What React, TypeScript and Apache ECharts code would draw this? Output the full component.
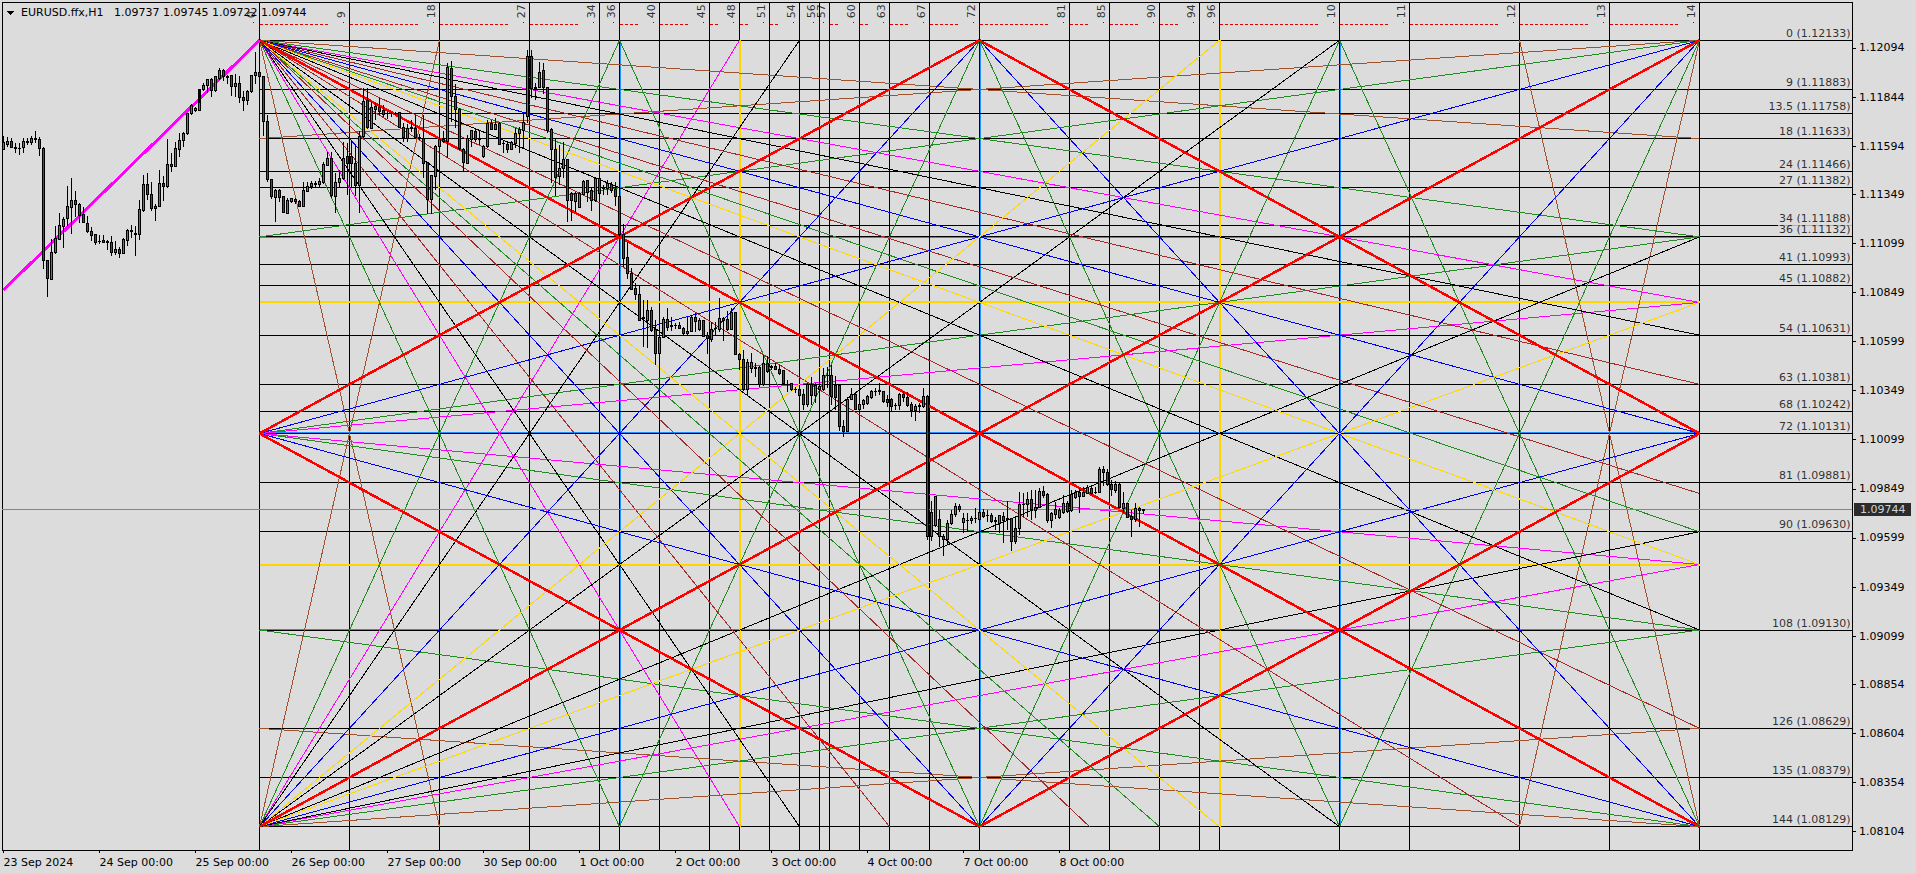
import React, { useEffect, useRef } from "react";
import * as echarts from "echarts";

const FONT = "'DejaVu Sans'";
const BG = "#dcdcdc";

// Hourly bars, [open, high, low, close] in 1e-5 price units
const sep23 = [
[111578,111646,111574,111612],[111600,111642,111591,111618],[111618,111634,111584,111586],[111588,111608,111557,111581],
[111581,111608,111551,111583],[111586,111634,111561,111618],[111615,111634,111600,111618],[111612,111646,111598,111634],
[111629,111671,111608,111631],[111629,111639,111544,111583],[111583,111590,110968,111014],[111013,111016,110828,110919],
[110914,111121,110910,111053],[111050,111187,111045,111125],[111121,111252,111119,111191],[111187,111231,111075,111223],
[111225,111391,111187,111287],[111281,111430,111147,111318],[111318,111366,111235,111296],[111298,111305,111204,111243],
[111247,111282,111201,111204],[111201,111238,111153,111159],[111160,111181,111113,111138],[111142,111145,111092,111103]];
const sep24 = [
[111108,111140,111096,111106],[111114,111140,111103,111103],[111107,111116,111065,111105],[111104,111136,111035,111053],
[111052,111109,111038,111069],[111069,111079,111026,111048],[111048,111125,111046,111119],[111116,111174,111086,111165],
[111159,111191,111126,111167],[111150,111187,111035,111143],[111143,111320,111116,111272],[111265,111447,111259,111399],
[111399,111459,111320,111347],[111349,111411,111265,111276],[111276,111299,111215,111287],[111286,111472,111284,111405],
[111405,111442,111315,111388],[111388,111630,111381,111501],[111501,111557,111462,111489],[111489,111613,111487,111583],
[111576,111659,111540,111623],[111622,111666,111591,111659],[111656,111765,111651,111761],[111758,111809,111755,111802]];
const sep25 = [
[111778,111795,111768,111785],[111778,111815,111775,111883],[111880,111914,111877,111905],[111904,111938,111863,111931],
[111931,111941,111846,111876],[111876,111951,111871,111948],[111941,111990,111931,111978],[111978,111985,111924,111951],
[111948,111956,111910,111946],[111954,111958,111849,111897],[111897,111961,111846,111914],[111914,111951,111815,111842],
[111842,111876,111773,111826],[111826,111880,111802,111870],[111870,111958,111863,111954],[111954,112075,111910,111970],
[111968,112016,111888,111948],[111948,111952,111647,111719],[111719,111753,111413,111423],[111423,111426,111325,111337],
[111335,111376,111210,111366],[111366,111376,111311,111335],[111337,111340,111252,111255],[111252,111328,111247,111318]];
const sep26 = [
[111313,111332,111303,111325],[111323,111332,111298,111310],[111313,111318,111284,111289],[111289,111413,111286,111366],
[111362,111413,111359,111389],[111386,111417,111376,111406],[111406,111417,111388,111401],[111400,111434,111386,111412],
[111408,111512,111403,111501],[111498,111566,111495,111532],[111532,111563,111332,111342],[111337,111456,111252,111410],
[111410,111473,111383,111430],[111430,111617,111422,111532],[111539,111608,111345,111508],[111539,111625,111388,111507],
[111507,111600,111342,111393],[111393,111671,111252,111642],[111642,111888,111637,111821],[111824,111888,111681,111688],
[111685,111821,111681,111792],[111783,111815,111725,111797],[111793,111837,111753,111770],[111776,111804,111744,111756]];
const sep27 = [
[111761,111773,111732,111759],[111759,111770,111744,111761],[111762,111770,111753,111760],[111766,111770,111685,111688],
[111688,111714,111613,111637],[111634,111705,111617,111686],[111685,111727,111664,111687],[111686,111753,111630,111639],
[111639,111654,111625,111637],[111632,111753,111430,111507],[111510,111515,111249,111323],[111320,111447,111249,111442],
[111439,111600,111371,111590],[111590,111685,111498,111627],[111630,111671,111608,111620],[111617,112016,111535,111997],
[111990,112028,111719,111846],[111848,111912,111685,111781],[111780,111790,111574,111580],[111578,111583,111461,111510],
[111507,111651,111503,111634],[111630,111676,111590,111672],[111671,111685,111617,111630],[111630,111671,111600,111628]];
const sep30 = [
[111541,111600,111535,111593],[111590,111727,111587,111709],[111709,111727,111676,111681],[111681,111736,111676,111705],
[111710,111719,111600,111603],[111610,111627,111557,111608],[111600,111613,111557,111576],[111576,111620,111573,111612],
[111608,111688,111583,111659],[111659,111692,111557,111678],[111675,111770,111583,111715],[111744,112084,111710,112050],
[112051,112084,111837,111885],[111892,111914,111829,111890],[111893,112021,111888,111970],[111977,112016,111858,111892],
[111895,111897,111659,111676],[111680,111685,111405,111578],[111578,111637,111342,111435],[111439,111600,111396,111478],
[111478,111617,111430,111527],[111524,111527,111210,111318],[111354,111362,111213,111315],[111311,111362,111260,111354]];
const oct1 = [
[111284,111362,111277,111354],[111349,111420,111345,111412],[111417,111422,111308,111357],[111366,111379,111266,111315],
[111315,111439,111311,111430],[111430,111434,111345,111354],[111379,111396,111345,111377],[111376,111422,111345,111403],
[111401,111413,111354,111367],[111371,111410,111291,111337],[111340,111345,111130,111142],[111145,111196,110981,111023],
[111028,111108,110916,110943],[110947,110972,110862,110865],[110870,110899,110811,110840],[110840,110882,110705,110706],
[110718,110811,110573,110720],[110706,110811,110565,110758],[110758,110774,110650,110655],[110658,110709,110480,110539],
[110539,110658,110455,110619],[110621,110723,110616,110712],[110712,110768,110655,110672],[110679,110723,110655,110677]];
const oct2 = [
[110682,110696,110662,110680],[110682,110701,110662,110667],[110667,110672,110633,110638],[110638,110723,110633,110650],
[110650,110735,110646,110721],[110721,110743,110650,110699],[110658,110718,110655,110706],[110704,110709,110621,110624],
[110628,110650,110536,110614],[110611,110701,110599,110662],[110667,110701,110628,110665],[110662,110823,110650,110718],
[110718,110723,110604,110706],[110709,110757,110655,110662],[110662,110768,110658,110748],[110748,110752,110529,110531],
[110531,110539,110455,110509],[110509,110556,110349,110353],[110353,110509,110322,110492],[110463,110543,110438,110494],
[110466,110488,110421,110464],[110466,110475,110370,110378],[110378,110531,110375,110485],[110485,110526,110441,110446]];
const oct3 = [
[110468,110480,110455,110470],[110471,110488,110455,110458],[110458,110480,110429,110434],[110451,110455,110378,110383],
[110382,110404,110344,110380],[110387,110390,110349,110356],[110356,110370,110336,110354],[110356,110361,110314,110324],
[110327,110356,110251,110280],[110276,110390,110268,110378],[110382,110421,110276,110324],[110324,110390,110285,110373],
[110370,110463,110344,110353],[110353,110463,110349,110426],[110426,110471,110361,110428],[110424,110480,110276,110319],
[110373,110424,110251,110315],[110373,110378,110146,110169],[110169,110200,110115,110141],[110141,110319,110138,110302],
[110302,110361,110300,110331],[110329,110336,110251,110254],[110254,110319,110251,110280],[110281,110305,110254,110297]];
const oct4 = [
[110285,110327,110276,110317],[110315,110353,110305,110344],[110344,110365,110324,110346],[110346,110387,110327,110348],
[110344,110349,110285,110293],[110302,110327,110264,110290],[110302,110310,110247,110268],[110273,110288,110251,110271],
[110271,110339,110251,110331],[110327,110348,110293,110315],[110315,110344,110268,110273],[110276,110293,110217,110247],
[110247,110281,110197,110268],[110271,110285,110234,110268],[110268,110361,110259,110319],[110319,110325,109586,109606],
[109606,109789,109581,109730],[109660,109815,109655,109810],[109691,109742,109552,109606],[109606,109620,109508,109592],
[109592,109691,109564,109674],[109670,109742,109665,109720],[109716,109776,109704,109760],[109760,109772,109733,109742]];
const oct7 = [
[109677,109725,109623,109699],[109687,109725,109635,109689],[109686,109711,109669,109699],[109698,109750,109674,109700],
[109694,109767,109640,109730],[109730,109747,109703,109708],[109713,109742,109682,109711],[109711,109725,109674,109682],
[109687,109708,109637,109685],[109674,109716,109623,109711],[109708,109733,109572,109687],[109696,109788,109640,109694],
[109699,109703,109535,109581],[109648,109708,109569,109581],[109645,109835,109614,109767],[109769,109830,109708,109767],
[109767,109835,109704,109793],[109796,109844,109691,109742],[109737,109844,109699,109755],[109755,109852,109750,109838],
[109838,109861,109801,109813],[109821,109827,109674,109687],[109687,109733,109652,109721],[109716,109784,109694,109742]];
const oct8 = [
[109704,109750,109694,109737],[109728,109818,109721,109776],[109776,109789,109728,109733],[109737,109844,109733,109818],
[109805,109844,109798,109832],[109832,109852,109725,109810],[109810,109857,109806,109830],[109827,109869,109821,109855],
[109852,109861,109818,109827],[109832,109857,109823,109830],[109832,109962,109827,109950],[109949,109966,109861,109932],
[109933,109949,109861,109872],[109872,109894,109813,109847],[109840,109891,109827,109872],[109872,109886,109750,109754],
[109747,109835,109728,109776],[109776,109779,109699,109704],[109708,109742,109603,109694],[109694,109776,109682,109750],
[109747,109755,109653,109740],[109737,109745,109722,109744]];
const allBars = [...sep23, ...sep24, ...sep25, ...sep26, ...sep27, ...sep30, ...oct1, ...oct2, ...oct3, ...oct4, ...oct7, ...oct8];

const dateTicks = [0, 24, 48, 72, 96, 120, 144, 168, 192, 216, 240, 264];
const dateLabels = ["23 Sep 2024", "24 Sep 00:00", "25 Sep 00:00", "26 Sep 00:00", "27 Sep 00:00", "30 Sep 00:00", "1 Oct 00:00", "2 Oct 00:00", "3 Oct 00:00", "4 Oct 00:00", "7 Oct 00:00", "8 Oct 00:00"];
const priceTicks = [1.12094, 1.11844, 1.11594, 1.11349, 1.11099, 1.10849, 1.10599, 1.10349, 1.10099, 1.09849, 1.09599, 1.09349, 1.09099, 1.08854, 1.08604, 1.08354, 1.08104];

// Gann grid
const levelNames = [0, 9, 13.5, 18, 24, 27, 34, 36, 41, 45, 54, 63, 68, 72, 81, 90, 108, 126, 135, 144];
const levelPrices = ["1.12133", "1.11883", "1.11758", "1.11633", "1.11466", "1.11382", "1.11188", "1.11132", "1.10993", "1.10882", "1.10631", "1.10381", "1.10242", "1.10131", "1.09881", "1.09630", "1.09130", "1.08629", "1.08379", "1.08129"];
const timeLevels = [0, 9, 18, 27, 34, 36, 40, 45, 48, 51, 54, 56, 57, 60, 63, 67, 72, 81, 85, 90, 94, 96, 108, 115, 126, 135, 144];
const timeNames = ["0", "9", "18", "27", "34", "36", "40", "45", "48", "51", "54", "56", "57", "60", "63", "67", "72", "81", "85", "90", "94", "96", "10", "11", "12", "13", "14"];
const blueLevels = [36, 72, 108];
const goldLevels = [48, 96];

const brownRays = [[0,0,144,18],[0,0,18,144],[144,0,0,18],[144,0,126,144],[0,144,144,126],[0,144,18,0],[144,144,0,126],[144,144,126,0]];
const greenRays = [[0,0,144,36],[0,0,36,144],[0,0,144,90],[0,0,90,144],[144,0,0,36],[144,0,108,144],[0,144,144,108],[0,144,36,0],[144,144,0,108],[144,144,108,0],[0,72,144,36],[0,72,144,108],[72,0,36,144],[72,0,108,144],[72,144,36,0],[72,144,108,0]];
const magentaRays = [[0,0,144,48],[0,0,48,144],[0,144,144,96],[0,144,48,0],[0,72,144,48],[0,72,144,96]];
const blackRays = [[0,0,144,54],[0,0,54,144],[0,0,144,108],[0,0,108,144],[0,144,144,90],[0,144,54,0],[0,144,144,36],[0,144,108,0]];
const darkRedRays = [[0,0,144,63],[0,0,63,144],[0,0,144,83],[0,0,83,144],[0,0,144,126],[0,0,126,144]];
const blueRays = [[0,0,144,72],[0,0,72,144],[144,0,0,72],[144,0,72,144],[0,144,144,72],[0,144,72,0],[144,144,0,72],[144,144,72,0]];
const goldRays = [[0,0,144,96],[0,0,96,144],[0,144,144,48],[0,144,96,0]];
const redRays = [[0,0,144,144],[144,0,0,144],[0,72,72,0],[72,0,144,72],[0,72,72,144],[72,144,144,72]];

const trendLine = [[0, 1.10862], [64, 1.12133]];
const lastPrice = 1.09744;

const X_MIN = -0.375, X_MAX = 462.125, Y_MIN = 1.0801, Y_MAX = 1.12328;
const gx = (t: number) => 64 + 2.5 * t;
const gy = (l: number) => 1.12133 - (l * 0.04004) / 144;

const segs = (list: number[][]) => {
  const out: any[] = [];
  list.forEach(([a, b, c, d]) => {
    out.push([a, b], [c, d], [null, null]);
  });
  return out;
};
const rays = (list: number[][]) => list.map(([a, b, c, d]) => [gx(a), gy(b), gx(c), gy(d)]);

const lineSeries = (data: any[], color: string, width: number, z = 3, type: any = "solid") => ({
  type: "line",
  data,
  silent: true,
  symbol: "none",
  showSymbol: false,
  connectNulls: false,
  lineStyle: { color, width, type, cap: "butt" },
  itemStyle: { color },
  z,
  animation: false,
});

export default function App() {
  const ref = useRef<HTMLDivElement>(null);
  useEffect(() => {
    const chart = echarts.init(ref.current!, undefined, { renderer: "svg" });
    const priceOf = (l: number) => parseFloat(levelPrices[levelNames.indexOf(l)]);

    const horiz = levelNames.map((l) => [gx(0), priceOf(l), X_MAX, priceOf(l)]);
    const vert = timeLevels.map((t) => [gx(t), Y_MIN, gx(t), Y_MAX]);
    const blueH = blueLevels.map((l) => [gx(0), gy(l), gx(144), gy(l)]);
    const blueV = blueLevels.map((t) => [gx(t), gy(0), gx(t), gy(144)]);
    const goldH = goldLevels.map((l) => [gx(0), gy(l), gx(144), gy(l)]);
    const goldV = goldLevels.map((t) => [gx(t), gy(0), gx(t), gy(144)]);
    const dashes: number[][] = [];
    timeLevels.forEach((t, i) => {
      const next = timeLevels[i + 1];
      if (next !== undefined && next - 2 > t) dashes.push([gx(t), 1.12211, gx(next - 2), 1.12211]);
    });

    const candleData = allBars.map((b, i) => [i, b[0] / 1e5, b[3] / 1e5, b[2] / 1e5, b[1] / 1e5]);

    const levelLabels = levelNames.map((l, i) => ({
      value: [X_MAX - 0.1, priceOf(l)],
      name: `${l} (${levelPrices[i]})`,
    }));
    const timeLabels = timeLevels.map((t, i) => ({
      value: [gx(t) - 2.1, 1.12245],
      name: timeNames[i],
    }));
    const dots = timeLevels.map((t) => [gx(t) - 1.6, 1.12222]);

    chart.setOption({
      animation: false,
      backgroundColor: BG,
      textStyle: { fontFamily: FONT },
      title: {
        text: "EURUSD.ffx,H1   1.09737 1.09745 1.09722 1.09744",
        left: 21,
        top: 7,
        padding: 0,
        textStyle: { fontFamily: FONT, fontSize: 11, fontWeight: "normal", color: "#000" },
      },
      graphic: [
        { type: "polygon", shape: { points: [[6.5, 10.5], [15, 10.5], [10.75, 15]] }, style: { fill: "#000" }, silent: true },
      ],
      grid: { left: 2, right: 64, top: 2, bottom: 24, show: true, borderColor: "#000", borderWidth: 1, backgroundColor: BG },
      xAxis: {
        type: "value",
        min: X_MIN,
        max: X_MAX,
        splitLine: { show: false },
        axisLine: { onZero: false, lineStyle: { color: "#000" } },
        axisTick: { length: 3, lineStyle: { color: "#000" }, customValues: dateTicks },
        axisLabel: {
          customValues: dateTicks,
          color: "#000",
          fontFamily: FONT,
          fontSize: 11,
          margin: 7,
          align: "left",
          hideOverlap: false,
          formatter: (v: number) => dateLabels[dateTicks.indexOf(v)] ?? "",
        },
      },
      yAxis: {
        type: "value",
        position: "right",
        min: Y_MIN,
        max: Y_MAX,
        splitLine: { show: false },
        axisLine: { onZero: false, lineStyle: { color: "#000" } },
        axisTick: { length: 4, lineStyle: { color: "#000" }, customValues: priceTicks },
        axisLabel: {
          customValues: priceTicks,
          color: "#000",
          fontFamily: FONT,
          fontSize: 11,
          margin: 7,
          hideOverlap: false,
          formatter: (v: number) => v.toFixed(5),
        },
      },
      series: [
        lineSeries(segs(blueH), "#1e90ff", 2, 2),
        lineSeries(segs(blueV), "#1e90ff", 2, 2),
        lineSeries(segs(horiz), "#000", 1, 2),
        lineSeries(segs(vert), "#000", 1, 2),
        lineSeries(segs(goldH), "#ffd700", 2, 2),
        lineSeries(segs(goldV), "#ffd700", 2, 2),
        lineSeries(segs(dashes), "#dd0000", 1, 2, [3, 2]),
        lineSeries(segs(rays(brownRays)), "#a0522d", 1),
        lineSeries(segs(rays(greenRays)), "#228b22", 1),
        lineSeries(segs(rays(magentaRays)), "#ff00ff", 1),
        lineSeries(segs(rays(blackRays)), "#000", 1),
        lineSeries(segs(rays(darkRedRays)), "#a52a2a", 1),
        lineSeries(segs(rays(blueRays)), "#0000ff", 1),
        lineSeries(segs(rays(goldRays)), "#ffd700", 1),
        lineSeries(segs(rays(redRays)), "#ff0000", 2.5),
        lineSeries(trendLine, "#ff00ff", 3),
        lineSeries([[X_MIN, lastPrice], [X_MAX, lastPrice]], "#778899", 1),
        {
          type: "candlestick",
          data: candleData,
          encode: { x: 0, y: [1, 2, 3, 4] },
          barWidth: 2,
          silent: true,
          z: 5,
          itemStyle: {
            color: "#2ca02c",
            color0: "#ff0000",
            borderColor: "#000",
            borderColor0: "#000",
            borderColorDoji: "#000",
            borderWidth: 1,
          },
        },
        {
          type: "scatter",
          data: levelLabels,
          symbolSize: 0,
          silent: true,
          clip: false,
          z: 6,
          label: {
            show: true,
            formatter: "{b}",
            position: "left",
            distance: 0,
            offset: [0, -7],
            color: "#000",
            fontFamily: FONT,
            fontSize: 11,
            backgroundColor: BG,
            padding: [0, 1, 0, 1],
            lineHeight: 13,
          },
        },
        {
          type: "scatter",
          data: timeLabels,
          symbolSize: 0,
          silent: true,
          clip: false,
          z: 6,
          label: {
            show: true,
            formatter: "{b}",
            position: "inside",
            rotate: 90,
            align: "left",
            verticalAlign: "middle",
            color: "#000",
            fontFamily: FONT,
            fontSize: 11,
          },
        },
        {
          type: "scatter",
          data: dots,
          symbol: "rect",
          symbolSize: 1,
          silent: true,
          clip: false,
          itemStyle: { color: "#000" },
          z: 6,
        },
        {
          type: "scatter",
          data: [[X_MAX, lastPrice]],
          symbolSize: 0,
          silent: true,
          clip: false,
          z: 7,
          label: {
            show: true,
            position: "right",
            distance: 2,
            formatter: lastPrice.toFixed(5),
            color: "#fff",
            fontFamily: FONT,
            fontSize: 11,
            backgroundColor: "#000",
            padding: [1, 6, 1, 6],
          },
        },
      ],
    });
    return () => chart.dispose();
  }, []);
  return (
    <>
      <style>{`body{margin:0;background:${BG}} #gann svg path{shape-rendering:crispEdges}`}</style>
      <div id="gann" ref={ref} style={{ position: "absolute", left: 0, top: 0, width: 1916, height: 874 }} />
    </>
  );
}
